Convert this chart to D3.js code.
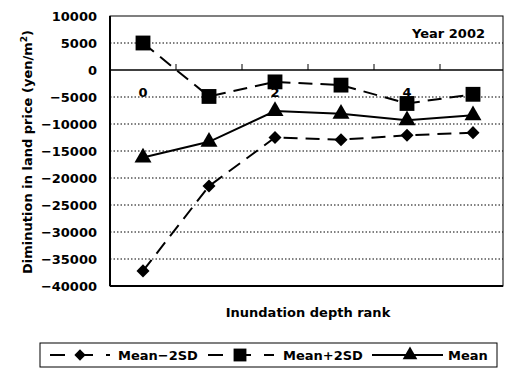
<!DOCTYPE html>
<html><head><meta charset="utf-8">
<script src="https://cdn.jsdelivr.net/npm/d3@7"></script>
<style>body{margin:0;background:#fff}text{font-family:"DejaVu Sans",sans-serif;font-weight:bold;fill:#000}</style>
</head><body><svg id="c" width="505" height="370"></svg>
<script>
const categories = [0,1,2,3,4,5];
const categoryLabels = ["0","","2","","4",""];
const meanMinus2SD = [-37200,-21500,-12500,-12900,-12100,-11600];
const meanPlus2SD = [5000,-4900,-2200,-2800,-6200,-4500];
const meanVals = [-16200,-13300,-7600,-8100,-9300,-8400];
const yTicks = [10000,5000,0,-5000,-10000,-15000,-20000,-25000,-30000,-35000,-40000];
const seriesNames = ["Mean\u22122SD","Mean+2SD","Mean"];

const svg = d3.select("#c");
const L=110,R=506,T=16,B=286,RB=503;
const x = d3.scaleBand().domain(categories).range([L,R]);
const y = d3.scaleLinear().domain([-40000,10000]).range([B,T]);
const fmt = d => d<0 ? "\u2212"+Math.abs(d) : String(d);

const wideDiamond = {draw(ctx,size){const r=Math.sqrt(size)/2; ctx.moveTo(0,-r);ctx.lineTo(r,0);ctx.lineTo(0,r);ctx.lineTo(-r,0);ctx.closePath();}};

// gridlines
svg.append("g").selectAll("line").data(yTicks.filter(v=>v!==0&&v!==10000&&v!==-40000)).join("line")
  .attr("x1",L).attr("x2",RB).attr("y1",d=>y(d)).attr("y2",d=>y(d))
  .attr("stroke","#000").attr("stroke-width",1).attr("stroke-dasharray","1.5,2");
// border
svg.append("rect").attr("x",L).attr("y",T).attr("width",RB-L).attr("height",B-T)
  .attr("fill","none").attr("stroke","#000").attr("stroke-width",1);
svg.append("line").attr("x1",L).attr("x2",L).attr("y1",T).attr("y2",B).attr("stroke","#000").attr("stroke-width",2);
svg.append("line").attr("x1",L).attr("x2",RB).attr("y1",B).attr("y2",B).attr("stroke","#000").attr("stroke-width",2);

// y axis labels
svg.append("g").selectAll("text").data(yTicks).join("text")
  .attr("x",97).attr("y",d=>y(d)).attr("dy","0.36em").attr("text-anchor","end")
  .attr("font-size",13).text(fmt);

// x axis at zero
const xAxis = d3.axisBottom(x).tickSize(0).tickFormat((d,i)=>categoryLabels[i]);
const gx = svg.append("g").attr("transform",`translate(0,${y(0)})`).call(xAxis);
gx.select(".domain").attr("d",`M${L},0H${RB}`).attr("stroke","#000").attr("stroke-width",1.5);
gx.selectAll("text").attr("font-size",13).attr("dy","1.85em").style("font-family","DejaVu Sans").style("font-weight","bold");
const bounds = categories.slice(1).map(c=>x(c));
svg.append("g").selectAll("line").data(bounds).join("line")
  .attr("x1",d=>d).attr("x2",d=>d).attr("y1",y(0)).attr("y2",y(0)-6).attr("stroke","#000").attr("stroke-width",1);

const cx = c=>x(c)+x.bandwidth()/2;
const line = d3.line().x((d,i)=>cx(categories[i])).y(d=>y(d));
const series = [
  {name:seriesNames[0], vals:meanMinus2SD, dash:"14,8", sym:wideDiamond, size:170},
  {name:seriesNames[1], vals:meanPlus2SD, dash:"14,8", sym:d3.symbolSquare, size:220},
  {name:seriesNames[2], vals:meanVals, dash:null, sym:d3.symbolTriangle, size:125}
];
series.forEach(s=>{
  svg.append("path").datum(s.vals).attr("d",line).attr("fill","none").attr("stroke","#000")
    .attr("stroke-width",2).attr("stroke-dasharray",s.dash);
  svg.append("g").selectAll("path").data(s.vals).join("path")
    .attr("transform",(d,i)=>`translate(${cx(categories[i])},${y(d)})`)
    .attr("d",d3.symbol().type(s.sym).size(s.size)).attr("fill","#000");
});

// titles
svg.append("text").attr("transform","translate(27,152) rotate(-90)").attr("text-anchor","middle").attr("dy","0.36em")
  .attr("font-size",13).html('Diminution in land price (yen/m<tspan dy="-5" font-size="9">2</tspan><tspan dy="5">)</tspan>');
svg.append("text").attr("x",308).attr("y",312).attr("dy","0.36em").attr("text-anchor","middle").attr("font-size",13).text("Inundation depth rank");
svg.append("text").attr("x",485).attr("y",33).attr("dy","0.36em").attr("text-anchor","end").attr("font-size",13).text("Year 2002");

// legend
const lg = svg.append("g");
lg.append("rect").attr("x",40).attr("y",343).attr("width",457).attr("height",24).attr("fill","#fff").attr("stroke","#000").attr("stroke-width",1);
const legItems = [
  {s:series[0], x0:50, x1:110, mx:80, tx:118},
  {s:series[1], x0:208, x1:274, mx:240, tx:283},
  {s:series[2], x0:372, x1:443, mx:410, tx:448}
];
legItems.forEach(it=>{
  const yy=355;
  lg.append("line").attr("x1",it.x0).attr("x2",it.x1).attr("y1",yy).attr("y2",yy).attr("stroke","#000").attr("stroke-width",2)
    .attr("stroke-dasharray",it.s.dash?"15,13":null);
  lg.append("path").attr("transform",`translate(${it.mx},${yy})`).attr("d",d3.symbol().type(it.s.sym).size(it.s.size*0.75)).attr("fill","#000");
  lg.append("text").attr("x",it.tx).attr("y",yy).attr("dy","0.36em").attr("font-size",13).text(it.s.name);
});
</script></body></html>
